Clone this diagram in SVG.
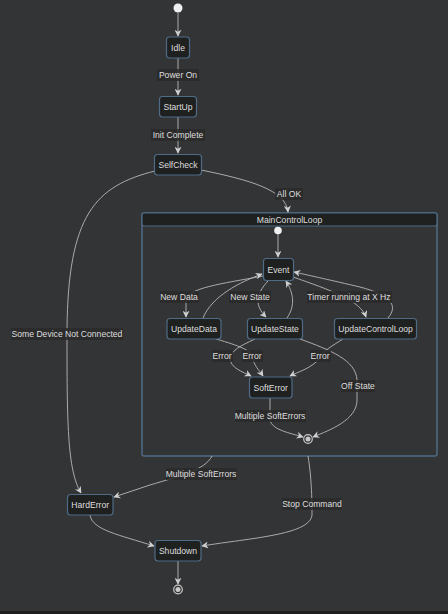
<svg xmlns="http://www.w3.org/2000/svg" width="448" height="614" viewBox="0 0 448 614">
<defs>
<style>
.node rect{fill:#1f2020;stroke:#4f6b85;stroke-width:1.2}
.node text,.lbl text,.hdr{font-family:"Liberation Sans",Arial,sans-serif;font-size:8.6px;fill:#dedede;text-anchor:middle;dominant-baseline:central}
.lbl rect{fill:#2a2a2a;opacity:0.85}
.edges path{fill:none;stroke:#b8b8b8;stroke-width:0.9;marker-end:url(#arr)}
.start{fill:#f0f0f0}
.endo{fill:none;stroke:#c8c8c8;stroke-width:1.2}
.endi{fill:#c8c8c8}
</style>
<marker id="arr" viewBox="0 0 10 10" refX="9" refY="5" markerWidth="7" markerHeight="7" markerUnits="userSpaceOnUse" orient="auto">
<path d="M0,0 L10,5 L0,10 L3,5 z" fill="#d0d0d0"/>
</marker>
</defs>
<rect x="0" y="0" width="448" height="614" fill="#333436"/>
<rect x="0" y="611" width="448" height="3" fill="#1e1e1e"/>

<g id="MainControlLoop">
<rect x="142" y="213" width="295" height="243" rx="2" fill="none" stroke="#4f6b85" stroke-width="1.5"/>
<rect x="142" y="213" width="295" height="13" rx="2" fill="#1f2020" stroke="#4f6b85" stroke-width="1.2"/>
<text class="hdr" x="289.5" y="219.7">MainControlLoop</text>
</g>

<g class="edges" id="connectors">
<path d="M178,13 L178,36"/>
<path d="M178,58 L178,95"/>
<path d="M178,117 L178,153"/>
<path d="M201,170 C250,180 286,190 288,212"/>
<path d="M155,171 C95,186 68,215 67,330 C67,420 67,470 81,493"/>
<path d="M212,456 C205,470 180,476 150,485 L114,497"/>
<path d="M308,456 C312,480 312,505 312,515 C310,535 250,538 202,546"/>
<path d="M90,515 C92,530 120,535 154,546"/>
<path d="M178,561 L178,584"/>
<path d="M278,234 L278,257"/>
<path d="M263,276 C220,284 188,288 186,300 L186,317"/>
<path d="M203,318 C212,296 240,282 262,274"/>
<path d="M268,281 C255,295 255,306 266,317"/>
<path d="M287,318 C296,305 293,292 286,281"/>
<path d="M293,277 C330,290 360,300 366,317"/>
<path d="M388,318 C399,305 390,295 360,287 C330,280 312,276 294,272"/>
<path d="M255,339 C240,346 232,350 230,358 C230,368 243,372 251,376"/>
<path d="M216,339 C240,346 250,350 252,356 C254,366 259,370 263,376"/>
<path d="M343,339 C332,346 324,350 320,358 C312,368 298,372 290,376"/>
<path d="M300,339 C330,350 356,360 357,380 L357,400 C357,420 330,430 313,437"/>
<path d="M270,398 L270,420 C272,430 290,433 303,437"/>
</g>

<g id="labels">
<g class="lbl"><rect x="157" y="69" width="42" height="12"/><text x="178" y="75">Power On</text></g>
<g class="lbl"><rect x="151" y="129" width="54" height="12"/><text x="178" y="135">Init Complete</text></g>
<g class="lbl"><rect x="275" y="188" width="28" height="12"/><text x="289" y="194">All OK</text></g>
<g class="lbl"><rect x="11" y="328" width="112" height="12"/><text x="67" y="334">Some Device Not Connected</text></g>
<g class="lbl"><rect x="160" y="291" width="39" height="12"/><text x="179" y="297">New Data</text></g>
<g class="lbl"><rect x="229" y="291" width="42" height="12"/><text x="250" y="297">New State</text></g>
<g class="lbl"><rect x="307" y="291" width="85" height="12"/><text x="349" y="297">Timer running at X Hz</text></g>
<g class="lbl"><rect x="212" y="350" width="21" height="12"/><text x="222" y="356">Error</text></g>
<g class="lbl"><rect x="242" y="350" width="21" height="12"/><text x="252" y="356">Error</text></g>
<g class="lbl"><rect x="310" y="350" width="21" height="12"/><text x="320" y="356">Error</text></g>
<g class="lbl"><rect x="341" y="380" width="34" height="12"/><text x="358" y="386">Off State</text></g>
<g class="lbl"><rect x="235" y="410" width="71" height="12"/><text x="270" y="416">Multiple SoftErrors</text></g>
<g class="lbl"><rect x="166" y="468" width="71" height="12"/><text x="201" y="474">Multiple SoftErrors</text></g>
<g class="lbl"><rect x="282" y="498" width="60" height="12"/><text x="312" y="504">Stop Command</text></g>
</g>

<g id="start"><circle class="start" cx="178" cy="8" r="4.5"/></g>
<g id="Idle" class="node"><rect x="166.5" y="37" width="23" height="21" rx="3"/><text x="178" y="47.5">Idle</text></g>
<g id="StartUp" class="node"><rect x="159.5" y="96.5" width="37" height="20.5" rx="3"/><text x="178" y="106.8">StartUp</text></g>
<g id="SelfCheck" class="node"><rect x="154.5" y="154.5" width="47" height="20.5" rx="3"/><text x="178" y="164.8">SelfCheck</text></g>
<g id="innerStart"><circle class="start" cx="278" cy="230.5" r="3.8"/></g>
<g id="Event" class="node"><rect x="263.5" y="258.5" width="30" height="22" rx="3"/><text x="278.5" y="269.5">Event</text></g>
<g id="UpdateData" class="node"><rect x="167" y="318.5" width="54" height="20.5" rx="3"/><text x="194" y="328.8">UpdateData</text></g>
<g id="UpdateState" class="node"><rect x="247.5" y="318.5" width="55" height="20.5" rx="3"/><text x="275" y="328.8">UpdateState</text></g>
<g id="UpdateControlLoop" class="node"><rect x="334.5" y="318.5" width="82" height="20.5" rx="3"/><text x="375.5" y="328.8">UpdateControlLoop</text></g>
<g id="SoftError" class="node"><rect x="249.5" y="377" width="42.5" height="21" rx="3"/><text x="270.7" y="387.5">SoftError</text></g>
<g id="innerEnd"><circle class="endo" cx="308" cy="439" r="4.3"/><circle class="endi" cx="308" cy="439" r="2.5"/></g>
<g id="HardError" class="node"><rect x="67.5" y="494.5" width="45.5" height="20.5" rx="3"/><text x="90.2" y="504.8">HardError</text></g>
<g id="Shutdown" class="node"><rect x="155" y="540.5" width="46" height="20.5" rx="3"/><text x="178" y="550.8">Shutdown</text></g>
<g id="end"><circle class="endo" cx="178" cy="589.5" r="4.3"/><circle class="endi" cx="178" cy="589.5" r="2.5"/></g>
</svg>
